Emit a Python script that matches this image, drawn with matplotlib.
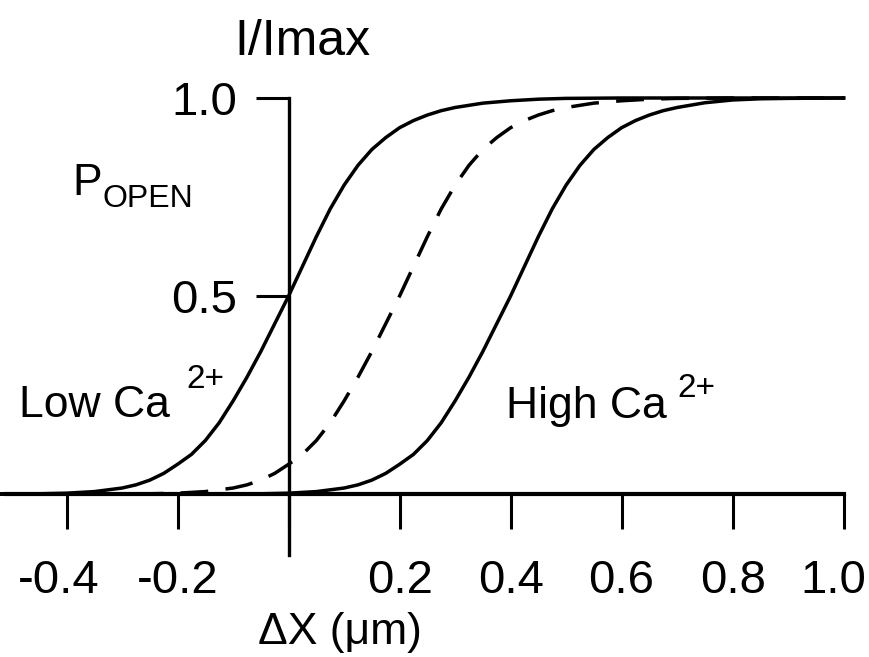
import matplotlib
matplotlib.use('Agg')
import matplotlib.pyplot as plt
import matplotlib.transforms as mtransforms

plt.rcParams['font.family'] = ['Liberation Sans', 'DejaVu Sans']

# curves (displacement in um, open probability)
x_low = [-0.52, -0.45, -0.40, -0.35, -0.30, -0.275, -0.25, -0.225, -0.20, -0.175,
         -0.15, -0.125, -0.10, -0.075, -0.05, -0.025, 0.00, 0.025, 0.05, 0.075,
         0.10, 0.125, 0.15, 0.175, 0.20, 0.225, 0.25, 0.275, 0.30, 0.35,
         0.40, 0.45, 0.50, 0.60, 1.00]
p_low = [0.0, 0.0005, 0.002, 0.006, 0.015, 0.023, 0.035, 0.052, 0.075, 0.10,
         0.135, 0.18, 0.235, 0.295, 0.36, 0.43, 0.50, 0.575, 0.65, 0.72,
         0.78, 0.83, 0.87, 0.90, 0.925, 0.943, 0.957, 0.968, 0.976, 0.987,
         0.993, 0.997, 0.999, 1.0, 1.0]

x_mid = [-0.52, -0.25, -0.20, -0.15, -0.10, -0.075, -0.05, -0.025, 0.00, 0.025,
         0.05, 0.075, 0.10, 0.125, 0.15, 0.175, 0.20, 0.225, 0.25, 0.275,
         0.30, 0.325, 0.35, 0.375, 0.40, 0.425, 0.45, 0.475, 0.50, 0.55,
         0.60, 0.65, 0.70, 0.80, 1.00]
p_mid = [0.0, 0.0005, 0.002, 0.006, 0.015, 0.023, 0.035, 0.052, 0.075, 0.10,
         0.135, 0.18, 0.235, 0.295, 0.36, 0.43, 0.50, 0.575, 0.65, 0.72,
         0.78, 0.83, 0.87, 0.90, 0.925, 0.943, 0.957, 0.968, 0.976, 0.987,
         0.993, 0.997, 0.999, 1.0, 1.0]

x_high = [-0.52, -0.05, 0.00, 0.05, 0.10, 0.125, 0.15, 0.175, 0.20, 0.225,
          0.25, 0.275, 0.30, 0.325, 0.35, 0.375, 0.40, 0.425, 0.45, 0.475,
          0.50, 0.525, 0.55, 0.575, 0.60, 0.625, 0.65, 0.675, 0.70, 0.75,
          0.80, 0.85, 0.90, 1.00]
p_high = [0.0, 0.0005, 0.002, 0.006, 0.015, 0.023, 0.035, 0.052, 0.075, 0.10,
          0.135, 0.18, 0.235, 0.295, 0.36, 0.43, 0.50, 0.575, 0.65, 0.72,
          0.78, 0.83, 0.87, 0.90, 0.925, 0.943, 0.957, 0.968, 0.976, 0.988,
          0.995, 0.998, 0.999, 1.0]

xticks = [-0.4, -0.2, 0.0, 0.2, 0.4, 0.6, 0.8, 1.0]
xtick_labels = ['-0.4', '-0.2', '', '0.2', '0.4', '0.6', '0.8', '1.0']
yticks = [0.5, 1.0]
ytick_labels = ['0.5', '1.0']

W, H = 869, 657
fig = plt.figure(figsize=(W / 100, H / 100), dpi=100)
ax = fig.add_axes([0.0, 0.2361, 0.9708, 0.6268])
ax.set_xlim(-0.52, 1.0)
ax.set_ylim(-0.02, 1.02)

ax.plot(x_low, p_low, color='black', lw=2.5, clip_on=False)
ax.plot(x_mid, p_mid, color='black', lw=2.5, dashes=(8, 5), clip_on=False)
ax.plot(x_high, p_high, color='black', lw=2.5, clip_on=False)

for s in ['top', 'right']:
    ax.spines[s].set_visible(False)
ax.spines['left'].set_position(('data', 0))
ax.spines['left'].set_bounds(-0.154, 1.0)
ax.spines['left'].set_linewidth(2.4)
ax.spines['bottom'].set_position(('data', 0))
ax.spines['bottom'].set_bounds(-0.51, 1.0)
ax.spines['bottom'].set_linewidth(3)

ax.set_xticks(xticks)
ax.set_xticklabels(xtick_labels)
ax.set_yticks(yticks)
ax.set_yticklabels(ytick_labels)
ax.tick_params(axis='x', direction='out', length=25, width=2.2, pad=22,
               labelsize=34)
ax.tick_params(axis='y', direction='out', length=24, width=2.2, pad=13,
               labelsize=34)

# nudge a couple of tick labels the way they sit in the original
shifts = {'-0.4': -8, '1.0': -10}
for lab in ax.get_xticklabels():
    dx = shifts.get(lab.get_text(), 0)
    if dx:
        off = mtransforms.ScaledTranslation(dx / 100, 0, fig.dpi_scale_trans)
        lab.set_transform(lab.get_transform() + off)


def px(x, y):
    return x / W, 1 - y / H


fig.text(*px(302, 55), 'I/Imax', fontsize=36, ha='center', va='baseline',
         family=['Liberation Sans Narrow', 'Liberation Sans'])
fig.text(*px(72, 195), 'P', fontsize=32, va='baseline')
fig.text(*px(102, 207), 'OPEN', fontsize=23, va='baseline')
fig.text(*px(19, 417), 'Low Ca', fontsize=32, va='baseline')
fig.text(*px(186, 388), '2+', fontsize=24, va='baseline')
fig.text(*px(506, 418), 'High Ca', fontsize=32, va='baseline')
fig.text(*px(677, 397), '2+', fontsize=24, va='baseline')
fig.text(*px(258, 644), 'ΔX (μm)', fontsize=32, va='baseline')

fig.savefig('out.png', dpi=100)
